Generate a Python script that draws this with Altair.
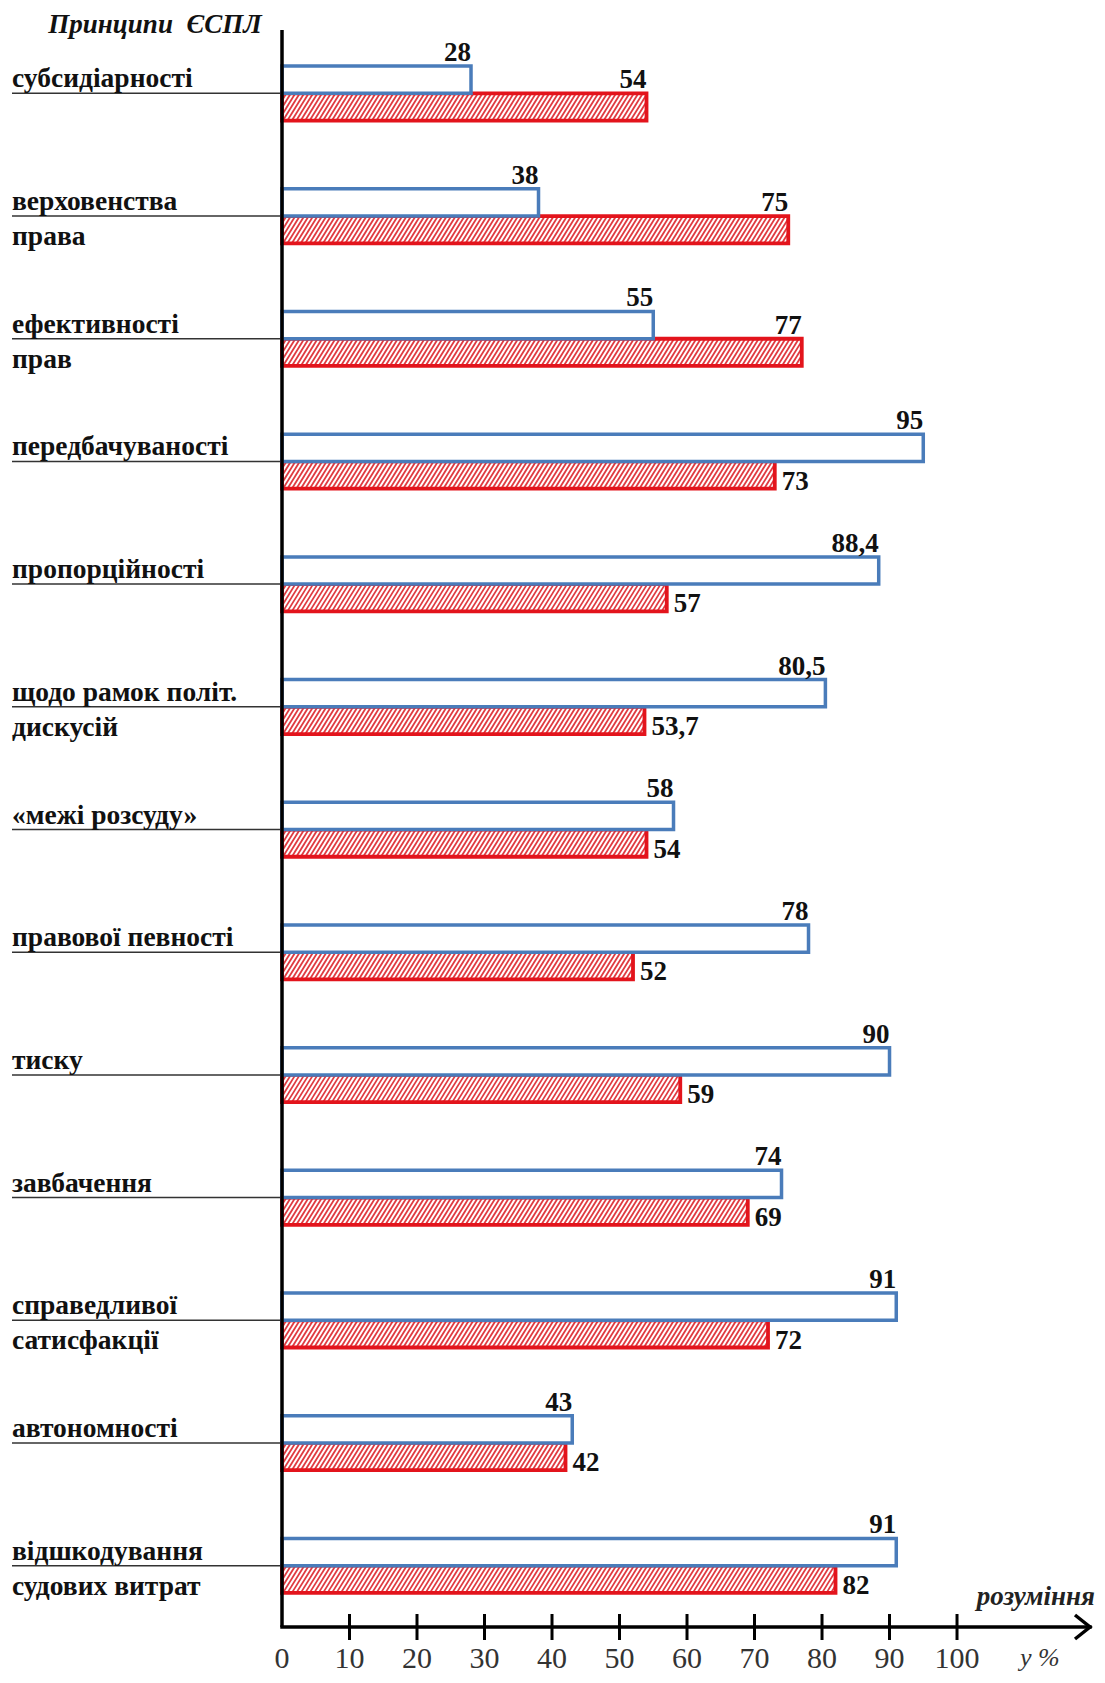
import altair as alt
import pandas as pd

# ---------------- data ----------------
CATEGORIES = [
    "субсидіарності",
    "верховенства\nправа",
    "ефективності\nправ",
    "передбачуваності",
    "пропорційності",
    "щодо рамок політ.\nдискусій",
    "«межі розсуду»",
    "правової певності",
    "тиску",
    "завбачення",
    "справедливої\nсатисфакції",
    "автономності",
    "відшкодування\nсудових витрат",
]
BLUE_VALUES = [28, 38, 55, 95, 88.4, 80.5, 58, 78, 90, 74, 91, 43, 91]
RED_VALUES = [54, 75, 77, 73, 57, 53.7, 54, 52, 59, 69, 72, 42, 82]
TICK_LABELS = [0, 10, 20, 30, 40, 50, 60, 70, 80, 90, 100]
TICK_MARKS = [10, 20, 30, 40, 50, 60, 70, 80, 90, 100]
AXIS_END = [119.7]

# ---------------- styling ----------------
W, H = 808, 1595
BH = 0.222          # bar thickness in category units
HW = 2.5            # hatch horizontal run (x units)
HP = 0.66           # hatch period (x units)
BLUE_C = "#4a7cba"
RED_C = "#e3141c"
HATCH_C = "#e03a40"
SERIF = "Liberation Serif"


def fmt(v):
    return f"{v:g}".replace(".", ",")


df = pd.DataFrame({
    "cat": CATEGORIES,
    "pos": list(range(len(CATEGORIES))),
    "blue": BLUE_VALUES,
    "red": RED_VALUES,
    "blue_lbl": [fmt(v) for v in BLUE_VALUES],
    "red_lbl": [fmt(v) for v in RED_VALUES],
})

XS = alt.Scale(domain=[0, AXIS_END[0]], nice=False, zero=True)
YS = alt.Scale(domain=[-0.5, len(CATEGORIES) - 0.5], reverse=True, nice=False, zero=False)

base = alt.Chart(df).transform_calculate(
    by1=f"datum.pos - {BH}",
    ry2=f"datum.pos + {BH}",
)

y_pos = alt.Y("pos:Q", scale=YS, axis=None)

underlines = base.mark_rule(color="#333333", strokeWidth=1.5).encode(
    x=alt.value(-270), x2=alt.value(0), y=y_pos
)

cat_labels = base.mark_text(
    align="left", baseline="alphabetic", font=SERIF, fontWeight="bold",
    fontSize=27.5, lineBreak="\n", lineHeight=35, dy=-6, color="#111111"
).encode(x=alt.value(-270), y=y_pos, text="cat:N")

hatch = base.transform_calculate(
    ks=f"sequence(-{HW}, datum.red, {HP})"
).transform_flatten(["ks"], as_=["k"]).transform_calculate(
    t0=f"max(0, -datum.k / {HW})",
    t1=f"min(1, (datum.red - datum.k) / {HW})",
).transform_filter("datum.t1 > datum.t0").transform_calculate(
    hx1=f"datum.k + datum.t0 * {HW}",
    hx2=f"datum.k + datum.t1 * {HW}",
    hy1=f"datum.pos + {BH} * (1 - datum.t0)",
    hy2=f"datum.pos + {BH} * (1 - datum.t1)",
).mark_rule(color=HATCH_C, strokeWidth=1.8).encode(
    x=alt.X("hx1:Q", scale=XS, axis=None),
    x2="hx2:Q",
    y=alt.Y("hy1:Q", scale=YS, axis=None),
    y2="hy2:Q",
)

red_bars = base.mark_rect(fillOpacity=0, stroke=RED_C, strokeWidth=3.8).encode(
    x=alt.X("red:Q", scale=XS, axis=None),
    x2=alt.datum(0),
    y=y_pos,
    y2="ry2:Q",
)

blue_bars = base.mark_rect(fill="white", stroke=BLUE_C, strokeWidth=3.5).encode(
    x=alt.X("blue:Q", scale=XS, axis=None),
    x2=alt.datum(0),
    y=alt.Y("by1:Q", scale=YS, axis=None),
    y2="pos:Q",
)

lbl_style = dict(font=SERIF, fontWeight="bold", fontSize=27, color="#111111",
                 baseline="alphabetic")

blue_lbl = base.mark_text(align="right", dy=-5, **lbl_style).encode(
    x=alt.X("blue:Q", scale=XS, axis=None),
    y=alt.Y("by1:Q", scale=YS, axis=None),
    text="blue_lbl:N",
)

red_lbl_above = base.transform_filter("datum.red > datum.blue").mark_text(
    align="right", dy=-5, **lbl_style
).encode(
    x=alt.X("red:Q", scale=XS, axis=None),
    y=y_pos,
    text="red_lbl:N",
)

red_lbl_right = base.transform_filter("datum.red <= datum.blue").mark_text(
    align="left", dx=7, dy=1, **lbl_style
).encode(
    x=alt.X("red:Q", scale=XS, axis=None),
    y=alt.Y("ry2:Q", scale=YS, axis=None),
    text="red_lbl:N",
)

# x axis: ticks crossing the line, and tick labels
tick_df = pd.DataFrame({"t": TICK_MARKS})
ticks = alt.Chart(tick_df).mark_rule(color="black", strokeWidth=3).encode(
    x=alt.X("t:Q", scale=XS, axis=None),
    y=alt.value(H - 13),
    y2=alt.value(H + 13),
)

lab_df = pd.DataFrame({"t": TICK_LABELS})
tick_labels = alt.Chart(lab_df).mark_text(
    font=SERIF, fontSize=30, color="#333333", align="center", baseline="alphabetic"
).encode(
    x=alt.X("t:Q", scale=XS, axis=None),
    y=alt.value(H + 41),
    text="t:Q",
)

end_df = pd.DataFrame({"e": AXIS_END, "z": [0]})
x_line = alt.Chart(end_df).mark_rule(color="black", strokeWidth=3.5, strokeCap="square").encode(
    x=alt.X("z:Q", scale=XS, axis=None), x2="e:Q", y=alt.value(H)
)
arrow = alt.Chart(end_df).mark_point(
    shape="M-1.25,-1L0,0L-1.25,1", filled=False, size=576, strokeWidth=3.5,
    color="black", opacity=1, strokeJoin="miter"
).encode(x=alt.X("e:Q", scale=XS, axis=None), y=alt.value(H))

y_line = alt.Chart(end_df).mark_rule(color="black", strokeWidth=3.5).encode(
    x=alt.value(0), y=alt.value(-2), y2=alt.value(H)
)

title_txt = alt.Chart(end_df).mark_text(
    text="Принципи\u00a0 ЄСПЛ", font=SERIF, fontWeight="bold", fontStyle="italic",
    fontSize=27, align="center", baseline="alphabetic", color="#111111"
).encode(x=alt.value(-127), y=alt.value(1))

rozum_txt = alt.Chart(end_df).mark_text(
    text="розуміння", font=SERIF, fontStyle="italic", fontWeight="bold",
    fontSize=27, align="right", baseline="alphabetic", color="#222222"
).encode(x=alt.value(W + 5), y=alt.value(H - 22))

pct_txt = alt.Chart(end_df).mark_text(
    text="у %", font=SERIF, fontStyle="italic", fontSize=26,
    align="left", baseline="alphabetic", color="#333333"
).encode(x=alt.value(738), y=alt.value(H + 39))

chart = alt.layer(
    underlines, cat_labels, hatch, red_bars, blue_bars,
    blue_lbl, red_lbl_above, red_lbl_right,
    ticks, tick_labels, x_line, arrow, y_line, title_txt, rozum_txt, pct_txt,
).properties(
    width=W, height=H,
    autosize=alt.AutoSizeParams(type="none"),
    padding={"left": 274, "top": 24, "right": 5, "bottom": 47},
).configure_view(strokeWidth=0)

chart.save("out.html", embed_options={"renderer": "svg", "actions": False})
